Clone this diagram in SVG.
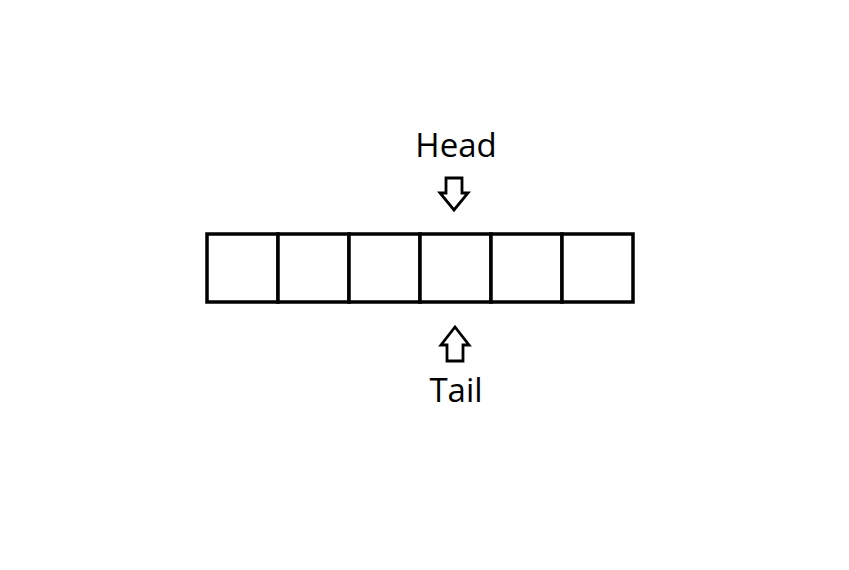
<svg xmlns="http://www.w3.org/2000/svg" width="849" height="570" viewBox="0 0 849 570">
<style>
.cell{fill:#fff;stroke:#000;stroke-width:3.5}
.arrow{fill:#fff;stroke:#000;stroke-width:2.8;stroke-linejoin:miter}
.lbl{font-family:"Open Sans","Noto Sans",sans-serif;font-size:33px;fill:#000;text-anchor:middle}
</style>
<rect width="849" height="570" fill="#fff"/>
<g id="array">
<rect class="cell" x="207" y="234" width="71" height="68"/>
<rect class="cell" x="278" y="234" width="71" height="68"/>
<rect class="cell" x="349" y="234" width="71" height="68"/>
<rect class="cell" x="420" y="234" width="71" height="68"/>
<rect class="cell" x="491" y="234" width="71" height="68"/>
<rect class="cell" x="562" y="234" width="71" height="68"/>
</g>
<g id="head">
<text class="lbl" x="456" y="157">Head</text>
</g>
<g id="tail">
<text class="lbl" x="456" y="402">Tail</text>
</g>
<g id="connectors">
<path class="arrow" d="M446,178 L462,178 L462,193 L468,193 L454,210 L440,193 L446,193 Z"/>
<path class="arrow" d="M447,361 L463,361 L463,345 L469,345 L455,327 L441,345 L447,345 Z"/>
</g>
</svg>
